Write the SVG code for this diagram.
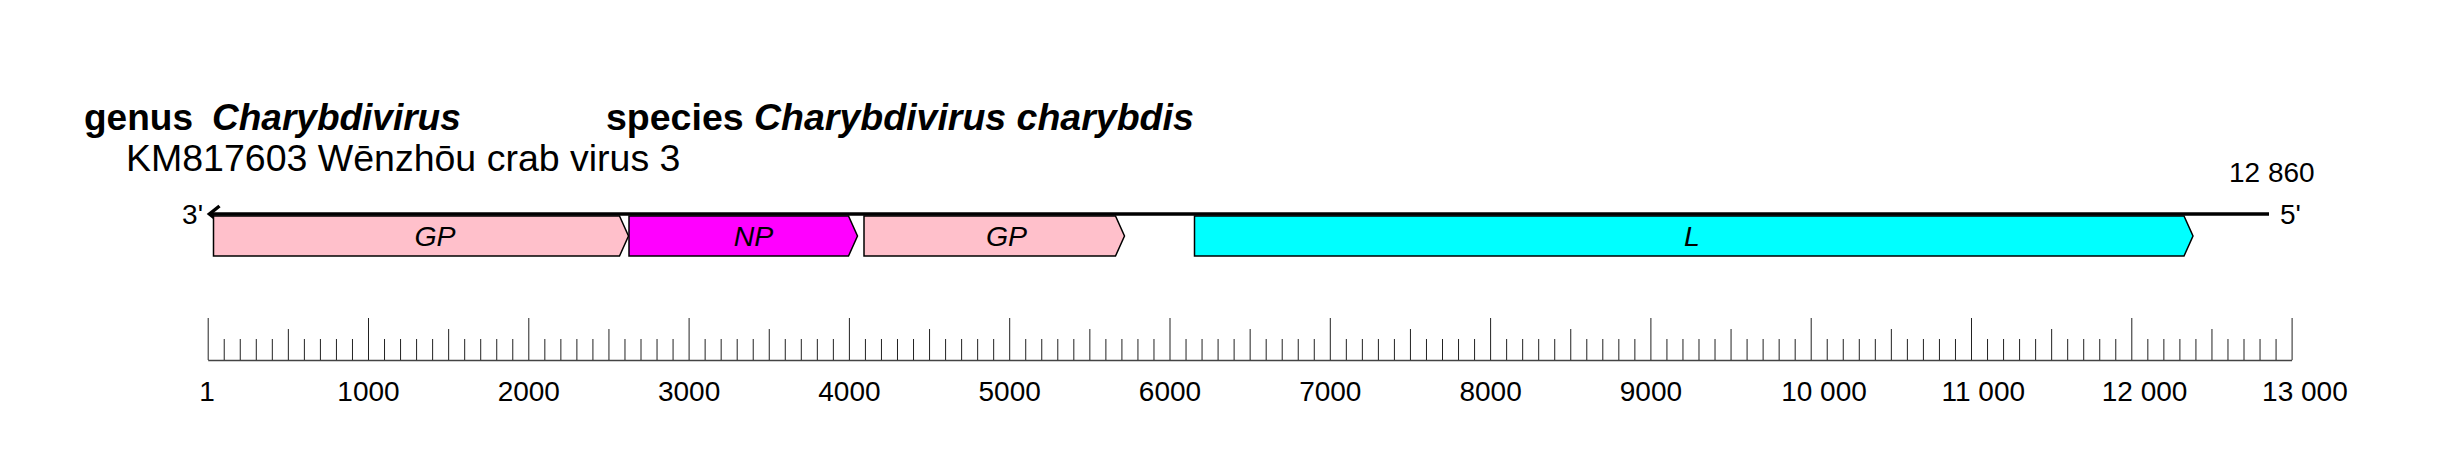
<svg xmlns="http://www.w3.org/2000/svg" width="2438" height="457" viewBox="0 0 2438 457">
<style>
text{font-family:"Liberation Sans",Arial,sans-serif;fill:#000}
.title{font-size:37px}
.title2{font-size:37.5px}
.b{font-weight:bold}
.i{font-style:italic}
.num{font-size:28px}
.glabel{font-size:28.5px;font-style:italic;text-anchor:middle}
.gene{stroke:#000;stroke-width:1.5;stroke-linejoin:miter}
.gp{fill:#FFC0CB}
.np{fill:#FF00FF}
.l{fill:#00FFFF}
</style>
<rect width="2438" height="457" fill="#fff"/>
<g id="header">
<text class="title b" x="84" y="130">genus</text>
<text class="title b i" x="212" y="130">Charybdivirus</text>
<text class="title2 b" x="606" y="130">species <tspan class="i">Charybdivirus charybdis</tspan></text>
<text class="title2" x="126" y="171">KM817603 Wēnzhōu crab virus 3</text>
<text class="num" x="2229" y="182">12 860</text>
</g>
<g id="connectors">
<line x1="209" y1="214" x2="2269" y2="214" stroke="#000" stroke-width="3.5"/>
<polyline points="219.5,206 209.5,214 219.5,222" fill="none" stroke="#000" stroke-width="3.5"/>
</g>
<g id="ends">
<text class="num" x="203" y="224" text-anchor="end">3'</text>
<text class="num" x="2280" y="224">5'</text>
</g>
<g id="gene-GP1">
<polygon class="gene gp" points="213.5,216 619.5,216 628.5,236 619.5,256 213.5,256"/>
<text class="glabel" x="435" y="246">GP</text>
</g>
<g id="gene-NP">
<polygon class="gene np" points="629,216 848.5,216 857.5,236 848.5,256 629,256"/>
<text class="glabel" x="753.5" y="246">NP</text>
</g>
<g id="gene-GP2">
<polygon class="gene gp" points="864,216 1115.5,216 1124.5,236 1115.5,256 864,256"/>
<text class="glabel" x="1006.5" y="246">GP</text>
</g>
<g id="gene-L">
<polygon class="gene l" points="1194.5,216 2184,216 2193,236 2184,256 1194.5,256"/>
<text class="glabel" x="1692" y="246">L</text>
</g>
<g id="ruler">
<line x1="208.2" y1="360.5" x2="2292.1" y2="360.5" stroke="#444" stroke-width="1.5"/>
<path fill="none" stroke="#222" stroke-width="1" d="M208.2 360 v-42
m16.03 42 v-21 m16.03 21 v-21 m16.03 21 v-21 m16.03 21 v-21 m16.03 21 v-31 m16.03 31 v-21 m16.03 21 v-21 m16.03 21 v-21 m16.03 21 v-21 m16.03 21 v-42
m16.03 42 v-21 m16.03 21 v-21 m16.03 21 v-21 m16.03 21 v-21 m16.03 21 v-31 m16.03 31 v-21 m16.03 21 v-21 m16.03 21 v-21 m16.03 21 v-21 m16.03 21 v-42
m16.03 42 v-21 m16.03 21 v-21 m16.03 21 v-21 m16.03 21 v-21 m16.03 21 v-31 m16.03 31 v-21 m16.03 21 v-21 m16.03 21 v-21 m16.03 21 v-21 m16.03 21 v-42
m16.03 42 v-21 m16.03 21 v-21 m16.03 21 v-21 m16.03 21 v-21 m16.03 21 v-31 m16.03 31 v-21 m16.03 21 v-21 m16.03 21 v-21 m16.03 21 v-21 m16.03 21 v-42
m16.03 42 v-21 m16.03 21 v-21 m16.03 21 v-21 m16.03 21 v-21 m16.03 21 v-31 m16.03 31 v-21 m16.03 21 v-21 m16.03 21 v-21 m16.03 21 v-21 m16.03 21 v-42
m16.03 42 v-21 m16.03 21 v-21 m16.03 21 v-21 m16.03 21 v-21 m16.03 21 v-31 m16.03 31 v-21 m16.03 21 v-21 m16.03 21 v-21 m16.03 21 v-21 m16.03 21 v-42
m16.03 42 v-21 m16.03 21 v-21 m16.03 21 v-21 m16.03 21 v-21 m16.03 21 v-31 m16.03 31 v-21 m16.03 21 v-21 m16.03 21 v-21 m16.03 21 v-21 m16.03 21 v-42
m16.03 42 v-21 m16.03 21 v-21 m16.03 21 v-21 m16.03 21 v-21 m16.03 21 v-31 m16.03 31 v-21 m16.03 21 v-21 m16.03 21 v-21 m16.03 21 v-21 m16.03 21 v-42
m16.03 42 v-21 m16.03 21 v-21 m16.03 21 v-21 m16.03 21 v-21 m16.03 21 v-31 m16.03 31 v-21 m16.03 21 v-21 m16.03 21 v-21 m16.03 21 v-21 m16.03 21 v-42
m16.03 42 v-21 m16.03 21 v-21 m16.03 21 v-21 m16.03 21 v-21 m16.03 21 v-31 m16.03 31 v-21 m16.03 21 v-21 m16.03 21 v-21 m16.03 21 v-21 m16.03 21 v-42
m16.03 42 v-21 m16.03 21 v-21 m16.03 21 v-21 m16.03 21 v-21 m16.03 21 v-31 m16.03 31 v-21 m16.03 21 v-21 m16.03 21 v-21 m16.03 21 v-21 m16.03 21 v-42
m16.03 42 v-21 m16.03 21 v-21 m16.03 21 v-21 m16.03 21 v-21 m16.03 21 v-31 m16.03 31 v-21 m16.03 21 v-21 m16.03 21 v-21 m16.03 21 v-21 m16.03 21 v-42
m16.03 42 v-21 m16.03 21 v-21 m16.03 21 v-21 m16.03 21 v-21 m16.03 21 v-31 m16.03 31 v-21 m16.03 21 v-21 m16.03 21 v-21 m16.03 21 v-21 m16.03 21 v-42"/>
<g class="num">
<text class="num" x="207" y="401" text-anchor="middle">1</text>
<text class="num" x="368.5" y="401" text-anchor="middle">1000</text>
<text class="num" x="528.8" y="401" text-anchor="middle">2000</text>
<text class="num" x="689.1" y="401" text-anchor="middle">3000</text>
<text class="num" x="849.4" y="401" text-anchor="middle">4000</text>
<text class="num" x="1009.7" y="401" text-anchor="middle">5000</text>
<text class="num" x="1170" y="401" text-anchor="middle">6000</text>
<text class="num" x="1330.3" y="401" text-anchor="middle">7000</text>
<text class="num" x="1490.6" y="401" text-anchor="middle">8000</text>
<text class="num" x="1650.9" y="401" text-anchor="middle">9000</text>
<text class="num" x="1781.2" y="401">10 000</text>
<text class="num" x="1941.5" y="401">11 000</text>
<text class="num" x="2101.8" y="401">12 000</text>
<text class="num" x="2262.1" y="401">13 000</text>
</g>
</g>
</svg>
